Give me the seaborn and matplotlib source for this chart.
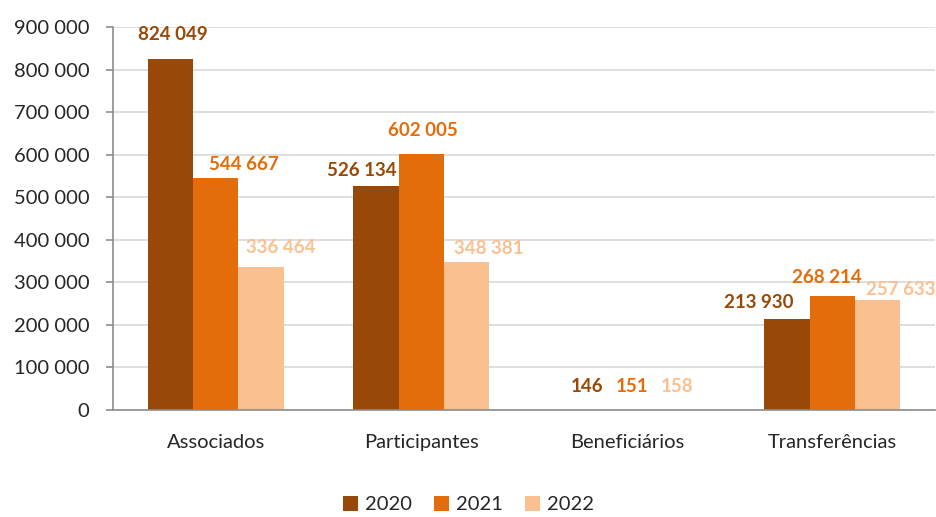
import matplotlib
matplotlib.use("Agg")
import matplotlib.pyplot as plt
import seaborn as sns
import pandas as pd
from matplotlib.ticker import FuncFormatter, FixedLocator

# data
categorias = ["Associados", "Participantes", "Beneficiários", "Transferências"]
anos = ["2020", "2021", "2022"]
v2020 = [824049, 526134, 146, 213930]
v2021 = [544667, 602005, 151, 268214]
v2022 = [336464, 348381, 158, 257633]

cores = ["#984807", "#E46C0A", "#FAC090"]

# label nudges (points) per year, per category: (dx, dy above bar top)
nudge = [
    [(1.5, 18), (-10, 11.5), (3.6, 17), (-20.5, 11.5)],
    [(20, 10), (1.5, 17), (3.6, 17), (-4, 13)],
    [(14, 13.7), (16, 9.5), (3.6, 17), (17, 7.5)],
]

rows = []
for ano, vals in zip(anos, [v2020, v2021, v2022]):
    for cat, v in zip(categorias, vals):
        rows.append({"Categoria": cat, "Ano": ano, "Valor": v})
df = pd.DataFrame(rows)

sns.set_style("white")
plt.rcParams["font.family"] = ["Lato", "DejaVu Sans"]

fig = plt.figure(figsize=(9.37, 5.17), dpi=100)
ax = fig.add_axes([113 / 937, 1 - 410 / 517, 822 / 937, 383 / 517])

sns.barplot(data=df, x="Categoria", y="Valor", hue="Ano", order=categorias,
            hue_order=anos, palette=cores, width=0.66, gap=0,
            saturation=1, linewidth=0, ax=ax, legend=True)

ax.set_ylim(0, 900000)
ax.set_xlim(-0.5, 3.5)
ax.yaxis.set_major_locator(FixedLocator(range(0, 900001, 100000)))
ax.yaxis.set_major_formatter(FuncFormatter(lambda v, p: f"{int(v):,}".replace(",", " ")))
ax.grid(axis="y", color="#D9D9D9", linewidth=1.2)
ax.set_axisbelow(True)
ax.set_xlabel("")
ax.set_ylabel("")

for s in ["top", "right"]:
    ax.spines[s].set_visible(False)
for s in ["left", "bottom"]:
    ax.spines[s].set_color("#8C8C8C")
    ax.spines[s].set_linewidth(1.2)

# category boundary ticks on x axis, labels at centers
ax.set_xticks([-0.5, 0.5, 1.5, 2.5, 3.5])
ax.set_xticklabels([])
ax.set_xticks(range(4), minor=True)
ax.set_xticklabels(categorias, minor=True)
ax.tick_params(axis="x", which="major", length=5, color="#8C8C8C", width=1.2, direction="out")
ax.tick_params(axis="x", which="minor", length=0, pad=17, labelsize=14.5)
ax.tick_params(axis="y", length=5, color="#8C8C8C", width=1.2, direction="out",
               labelsize=14.5, pad=12, left=True)

for cont, cor, nd in zip(ax.containers, cores, nudge):
    for bar, v, (dx, dy) in zip(cont.patches, cont.datavalues, nd):
        x = bar.get_x() + bar.get_width() / 2
        ax.annotate(f"{int(v):,}".replace(",", " "), (x, bar.get_height()),
                    xytext=(dx, dy), textcoords="offset points",
                    ha="center", va="center", color=cor, fontsize=13.5,
                    fontweight="bold", annotation_clip=False)

handles, lbls = ax.get_legend_handles_labels()
ax.legend(handles, lbls, loc="lower center", bbox_to_anchor=(0.5, -0.028),
          bbox_transform=fig.transFigure, ncol=3, frameon=False,
          handlelength=0.75, handleheight=0.75, handletextpad=0.35,
          columnspacing=1.1, fontsize=14.5)

fig.savefig("out.png", dpi=100)
